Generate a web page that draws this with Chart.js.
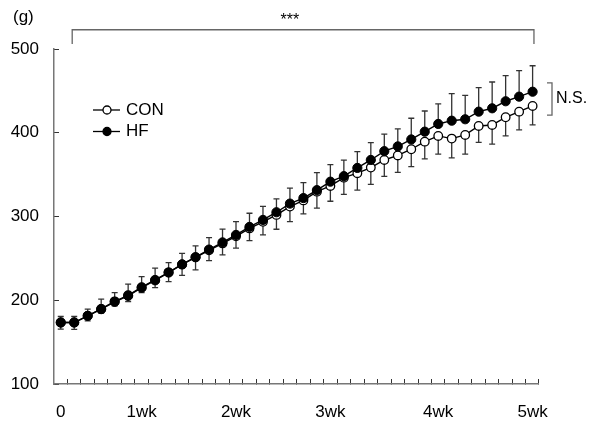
<!DOCTYPE html>
<html>
<head>
<meta charset="utf-8">
<script src="https://cdn.jsdelivr.net/npm/chart.js@4.4.1/dist/chart.umd.min.js"></script>
<style>
html,body{margin:0;padding:0;background:#fff;}
#wrap{width:591px;height:423px;}
</style>
</head>
<body>
<div id="wrap"><canvas id="weightChart" width="591" height="423"></canvas></div>
<script>
/* =====================
   Data (body weight, g)
===================== */

const days = [0,1,2,3,4,5,6,7,8,9,10,11,12,13,14,15,16,17,18,19,20,21,22,23,24,25,26,27,28,29,30,31,32,33,34,35];

const hfMean = [173.4,173.4,181.4,189.4,198.1,205.3,215.0,223.8,233.1,242.8,251.4,260.5,269.1,278.0,287.6,295.9,305.1,315.4,322.0,331.5,341.6,348.2,358.0,367.5,378.0,383.7,392.0,401.3,410.5,414.4,416.1,425.2,429.2,437.6,443.1,449.0];
const hfErr = [7.2,7.2,8.0,11.9,11.1,14.0,13.2,14.6,11.9,13.1,13.5,14.3,15.8,15.9,16.3,16.3,15.9,18.4,18.5,20.9,20.3,19.0,19.5,20.6,20.3,20.9,25.3,24.7,23.9,32.2,28.6,28.6,31.4,30.5,31.0,31.0];

const conMean = [173.4,173.4,181.4,189.7,198.7,205.9,215.6,224.3,233.3,242.8,251.2,259.6,267.9,276.3,285.8,293.6,301.9,311.8,319.2,329.7,336.5,346.4,351.7,358.4,367.5,372.9,380.3,389.4,396.2,393.0,397.4,408.1,409.3,418.5,425.2,432.0];
const conErr = [7.9,8.1,6.0,5.1,5.4,7.4,6.4,9.2,11.0,13.1,14.9,12.2,13.7,14.1,14.6,15.5,17.1,17.9,16.1,19.8,18.3,20.0,20.3,20.0,19.5,20.3,20.8,20.6,21.8,23.0,23.0,19.5,23.0,22.3,21.8,22.7];

const xLabelDays = [0,6,13,20,28,35];
const xLabels = ["0","1wk","2wk","3wk","4wk","5wk"];

const xMin = -0.5;
const xMax = 35.4;

// small tick marks between the daily points
const minorTicks = days.slice(0,35).map(d=>d+0.5).concat([xMax]);



/* =====================
   Helpers
===================== */

const FONT = "'Liberation Sans', Arial, sans-serif";

Chart.defaults.font.family = FONT;
Chart.defaults.font.size = 17;
Chart.defaults.color = "#000";

function toPoints(values){
return days.map((d,i)=>({x:d,y:values[i]}));
}



/* =====================
   Plugin: error bars
===================== */

const errorBars = {
id:"errorBars",
beforeDatasetsDraw(chart){
const ctx = chart.ctx;
const y = chart.scales.y;
const sets = [
{index:0,err:hfErr,mean:hfMean,dir:1},
{index:1,err:conErr,mean:conMean,dir:-1}
];
ctx.save();
ctx.strokeStyle = "#333";
ctx.lineWidth = 1.3;
sets.forEach(s=>{
const meta = chart.getDatasetMeta(s.index);
meta.data.forEach((pt,i)=>{
const y0 = y.getPixelForValue(s.mean[i]);
const y1 = y.getPixelForValue(s.mean[i]+s.dir*s.err[i]);
ctx.beginPath();
ctx.moveTo(pt.x,y0);
ctx.lineTo(pt.x,y1);
ctx.moveTo(pt.x-3,y1);
ctx.lineTo(pt.x+3,y1);
ctx.stroke();
});
});
ctx.restore();
}
};



/* =====================
   Plugin: labels, brackets, legend
===================== */

const annotations = {
id:"annotations",
afterDraw(chart){
const ctx = chart.ctx;
const x = chart.scales.x;
const y = chart.scales.y;
const area = chart.chartArea;

ctx.save();

// unit
ctx.fillStyle = "#000";
ctx.font = "17px " + FONT;
ctx.textAlign = "left";
ctx.textBaseline = "alphabetic";
ctx.fillText("(g)",13,22);

// *** bracket across the whole period
const bx1 = x.getPixelForValue(0.85);
const bx2 = x.getPixelForValue(35.1);
const by = y.getPixelForValue(523);
const byEnd = y.getPixelForValue(506);
ctx.strokeStyle = "#666";
ctx.lineWidth = 1.3;
ctx.beginPath();
ctx.moveTo(bx1,byEnd);
ctx.lineTo(bx1,by);
ctx.lineTo(bx2,by);
ctx.lineTo(bx2,byEnd);
ctx.stroke();

ctx.font = "16px " + FONT;
ctx.textAlign = "center";
ctx.fillText("***",x.getPixelForValue(17),25);

// N.S. bracket at the end
const nsTop = y.getPixelForValue(459.5);
const nsBot = y.getPixelForValue(421);
const nsX = area.right + 14;
ctx.beginPath();
ctx.moveTo(nsX-5,nsTop);
ctx.lineTo(nsX,nsTop);
ctx.lineTo(nsX,nsBot);
ctx.lineTo(nsX-5,nsBot);
ctx.stroke();

ctx.textAlign = "left";
ctx.textBaseline = "middle";
ctx.fillText("N.S.",nsX+4,(nsTop+nsBot)/2);

// legend
const items = [
{label:"CON",fill:"#fff",y:110},
{label:"HF",fill:"#000",y:131.5}
];
items.forEach(it=>{
ctx.strokeStyle = "#000";
ctx.lineWidth = 1.3;
ctx.beginPath();
ctx.moveTo(93,it.y);
ctx.lineTo(120,it.y);
ctx.stroke();
ctx.beginPath();
ctx.arc(107,it.y,4,0,Math.PI*2);
ctx.fillStyle = it.fill;
ctx.fill();
ctx.stroke();
ctx.fillStyle = "#000";
ctx.font = "17px " + FONT;
ctx.fillText(it.label,126,it.y);
});

ctx.restore();
}
};



/* =====================
   Chart
===================== */

const ctx = document.getElementById("weightChart").getContext("2d");

let weightChart = new Chart(ctx,{

type:"line",

data:{
datasets:[
{
label:"HF",
data:toPoints(hfMean),
borderColor:"#000",
borderWidth:1.4,
backgroundColor:"#000",
pointBackgroundColor:"#000",
pointBorderColor:"#000",
pointBorderWidth:1,
pointRadius:4.6,
tension:0
},
{
label:"CON",
data:toPoints(conMean),
borderColor:"#000",
borderWidth:1.4,
backgroundColor:"#fff",
pointBackgroundColor:"#fff",
pointBorderColor:"#000",
pointBorderWidth:1.3,
pointRadius:4.3,
tension:0
}
]
},

options:{
responsive:false,
animation:false,
devicePixelRatio:1,
layout:{padding:{top:49,right:53,left:0,bottom:0}},
plugins:{
legend:{display:false},
tooltip:{enabled:false}
},
scales:{
xMinor:{
type:"linear",
position:"bottom",
weight:0,
min:xMin,
max:xMax,
afterBuildTicks:s=>{s.ticks=minorTicks.map(v=>({value:v}));},
afterFit:s=>{s.height=0;},
ticks:{display:false},
grid:{display:true,drawOnChartArea:false,drawTicks:true,tickLength:-5,color:"#333",lineWidth:1},
border:{display:true,color:"#777",width:1.5}
},
x:{
type:"linear",
position:"bottom",
weight:1,
min:xMin,
max:xMax,
afterBuildTicks:s=>{s.ticks=xLabelDays.map(v=>({value:v}));},
afterFit:s=>{s.height=39;},
ticks:{
autoSkip:false,
maxRotation:0,
padding:18,
callback:(v,i)=>xLabels[i]
},
grid:{display:false,drawTicks:false},
border:{display:false}
},
y:{
type:"linear",
min:100,
max:500,
afterFit:s=>{s.width=54;},
ticks:{stepSize:100,padding:20},
grid:{display:true,drawOnChartArea:false,drawTicks:true,tickLength:-5,color:"#333",lineWidth:1},
border:{display:true,color:"#777",width:1.5}
}
}
},

plugins:[errorBars,annotations]

});
</script>
</body>
</html>
